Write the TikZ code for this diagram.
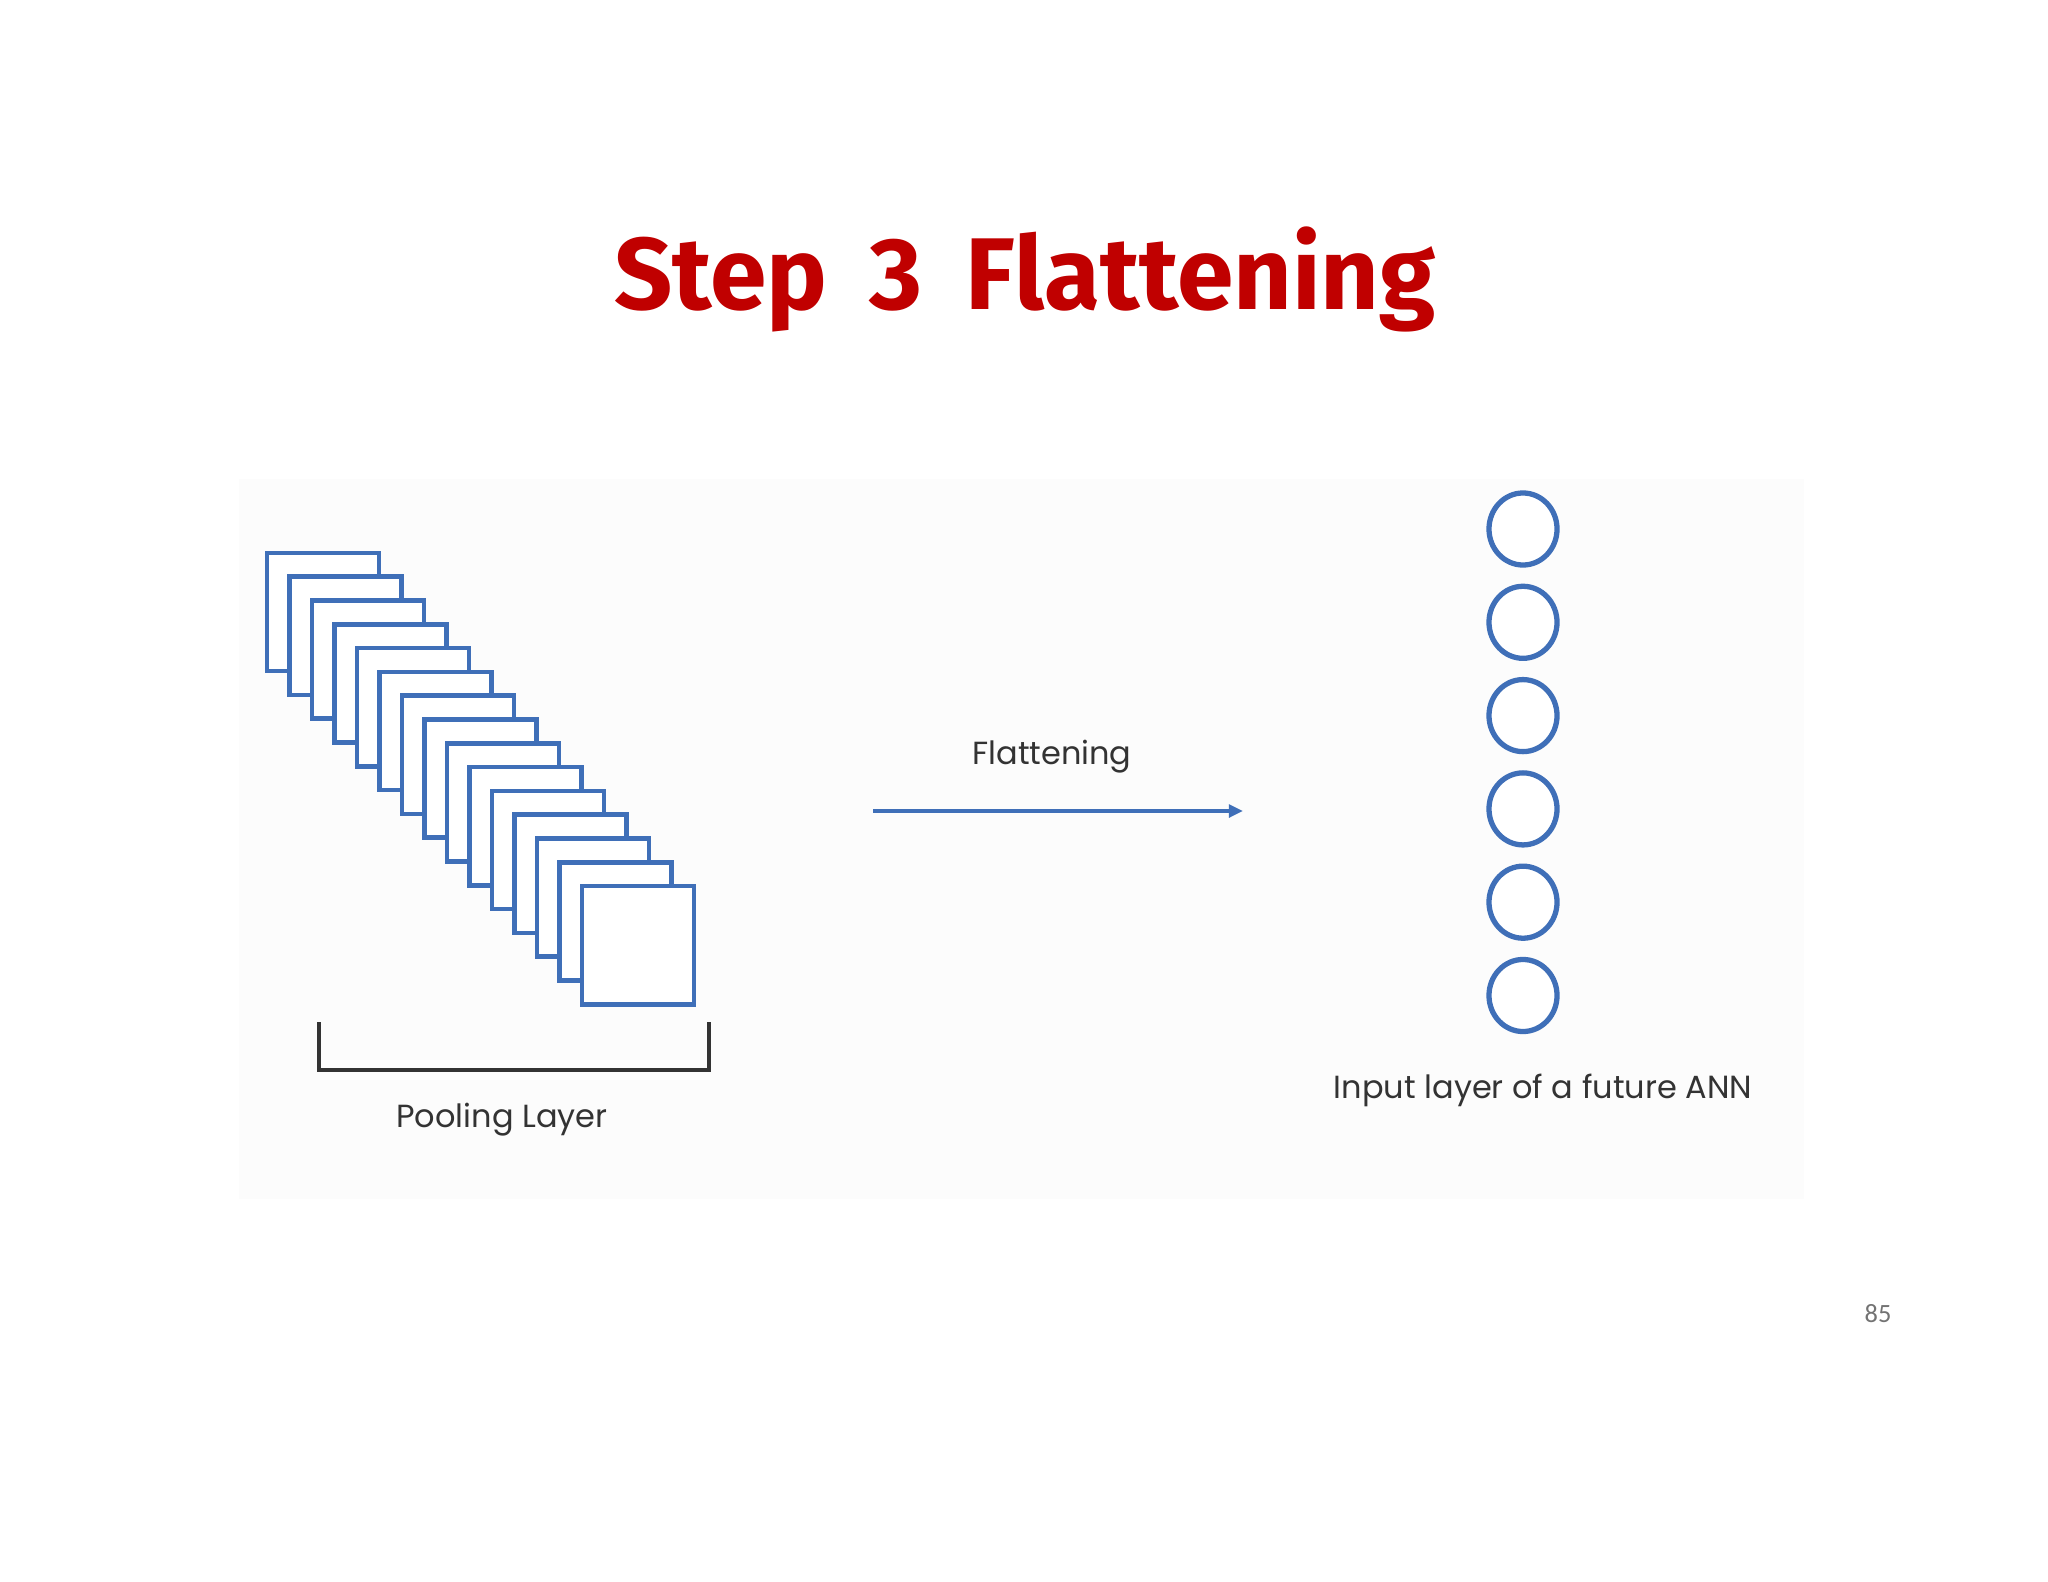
\documentclass[tikz,border=0pt]{standalone}
\usepackage{fontspec}
\usepackage{tikz}
\usetikzlibrary{arrows.meta}
\usetikzlibrary{shapes.geometric}
\newfontfamily\titlefont{Fira Sans}
\newfontfamily\labelfont{Poppins}
\newfontfamily\pagefont{Carlito}
\definecolor{titlered}{HTML}{C00000}
\definecolor{mapblue}{HTML}{3F6FB8}
\definecolor{labelgray}{HTML}{333333}
\tikzset{
	mapbox/.style={draw=mapblue,line width=1.3pt,fill=white,minimum width=1.12cm,minimum height=1.18cm,inner sep=0pt},
	neuron/.style={draw=mapblue,line width=1.5pt,fill=white,ellipse,minimum width=0.68cm,minimum height=0.72cm,inner sep=0pt},
	lbl/.style={anchor=base,text=labelgray,font=\labelfont\fontsize{9.1}{11}\selectfont}
}
\begin{document}
\begin{tikzpicture}[x=0.01cm,y=-0.01cm]
		\useasboundingbox (0,0) rectangle (2048,1582);
		\fill[black!1] (239,479) rectangle (1804,1199);
		
		\node(T) at (1025,310) [anchor=base,text=titlered,font=\titlefont\bfseries\fontsize{29}{36}\selectfont]{\spaceskip=0.42em Step 3 Flattening};
		
		% pooled feature maps
		\foreach \i in {0,...,14}
			\node[mapbox](S\i) at (323+22.5*\i,612+23.8*\i){};
		
		\coordinate(BL) at (319,1022);
		\coordinate(BR) at (709,1022);
		\draw[line width=1.1pt,labelgray] (BL)--(319,1070)--(709,1070)--(BR);
		\node(P) at (502,1127) [lbl]{Pooling Layer};
		
		% flattening arrow
		\coordinate(A1) at (873,811);
		\coordinate(A2) at (1243,811);
		\draw[-{Triangle[length=4pt,width=3.6pt]},line width=1.1pt,mapblue] (A1)--(A2);
		\node(F) at (1052,764) [lbl]{Flattening};
		
		% input neurons
		\foreach \j in {0,...,5}
			\node[neuron](N\j) at (1523,529+93.3*\j){};
		\node(I) at (1543,1098) [lbl]{Input layer of a future ANN};
		
		\node(pg) at (1878,1322) [anchor=base,text=black!55,font=\pagefont\fontsize{7.5}{9}\selectfont]{85};
	\end{tikzpicture}
\end{document}
